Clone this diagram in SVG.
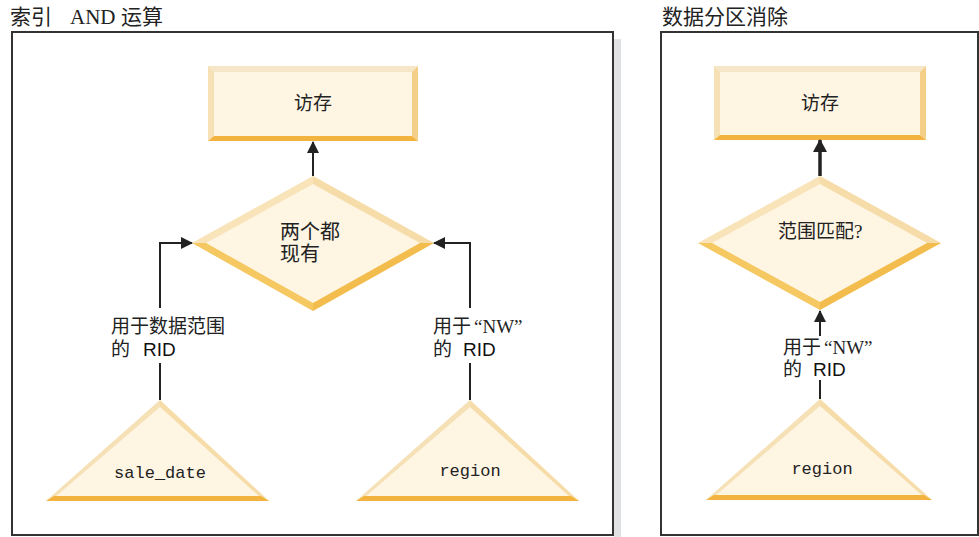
<svg xmlns="http://www.w3.org/2000/svg" width="979" height="537" viewBox="0 0 979 537">
<defs>
<style>
.title{font-family:"Liberation Serif","Noto Sans CJK SC",serif;font-size:21px;fill:#222}
.lbl{font-family:"Liberation Serif","Noto Sans CJK SC",serif;font-size:19px;fill:#222}
.rid{font-family:"Liberation Sans",Arial,sans-serif;font-size:19px;fill:#111}
.node{font-family:"Liberation Serif","Noto Sans CJK SC",serif;font-size:19px;fill:#222;text-anchor:middle}
.mono{font-family:"Liberation Mono","Courier New",monospace;font-size:17px;fill:#222;text-anchor:middle}
.fill{fill:#fef5e3}
.bt{fill:#f5e6c8}
.bl{fill:#f6e0b5}
.br{fill:#f3cf88}
.bb{fill:#f3b43f}
.dl{fill:#f9e3b9}
.dr{fill:#f6dca8}
.dbl{fill:#f5c862}
.dbr{fill:#f3bd4d}
.line{fill:none;stroke:#222;stroke-width:2}
.thick{fill:none;stroke:#222;stroke-width:3.5}
.panel{fill:#fff;stroke:#333;stroke-width:2}
</style>
<marker id="ah" markerWidth="12" markerHeight="12" refX="11" refY="6" orient="auto" markerUnits="userSpaceOnUse">
<path d="M0,0 L12,6 L0,12 Z" fill="#222"/>
</marker>
<marker id="ahb" markerWidth="14" markerHeight="14" refX="12" refY="7" orient="auto" markerUnits="userSpaceOnUse">
<path d="M0,0 L13,7 L0,14 Z" fill="#222"/>
</marker>
</defs>

<rect x="614" y="39" width="7" height="498" fill="#e1e2e4"/>
<rect class="panel" x="12" y="32" width="601" height="503"/>
<rect class="panel" x="661" y="32" width="317" height="503"/>
<text class="title" x="10" y="24">索引<tspan x="70">AND</tspan><tspan x="121">运算</tspan></text>
<text class="title" x="662" y="24">数据分区消除</text>

<!-- Left panel nodes -->
<g id="access1">
<rect class="fill" x="208" y="66" width="210" height="75"/>
<polygon class="bt" points="208,66 418,66 412,72 214,72"/>
<polygon class="bl" points="208,66 214,72 214,136 208,141"/>
<polygon class="br" points="418,66 418,141 412,136 412,72"/>
<polygon class="bb" points="208,141 418,141 412,136 214,136"/>
<text class="node" x="313" y="110">访存</text>
</g>

<g id="both">
<polygon class="fill" points="313,176 434,243 313,311 192,243"/>
<polygon class="dl" points="313,176 192,243 206,243 313,184"/>
<polygon class="dr" points="313,176 434,243 420,243 313,184"/>
<polygon class="dbl" points="192,243 313,311 313,303 206,243"/>
<polygon class="dbr" points="434,243 313,311 313,303 420,243"/>
<text class="lbl" x="280" y="239" style="font-size:20px">两个都</text>
<text class="lbl" x="280" y="261" style="font-size:20px">现有</text>
</g>

<g id="saledate">
<polygon class="fill" points="160,400 269,501 46,501"/>
<polygon class="bl" points="160,400 46,501 55,497 160,407"/>
<polygon class="dr" points="160,400 269,501 260,497 160,407"/>
<polygon class="bb" points="46,501 269,501 261,496 54,496"/>
<text class="mono" x="160" y="478">sale_date</text>
</g>

<g id="region1">
<polygon class="fill" points="470,400 579,501 356,501"/>
<polygon class="bl" points="470,400 356,501 365,497 470,407"/>
<polygon class="dr" points="470,400 579,501 570,497 470,407"/>
<polygon class="bb" points="356,501 579,501 571,496 364,496"/>
<text class="mono" x="470" y="476">region</text>
</g>

<!-- Right panel nodes -->
<g id="access2">
<rect class="fill" x="714" y="66" width="212" height="74"/>
<polygon class="bt" points="714,66 926,66 920,72 720,72"/>
<polygon class="bl" points="714,66 720,72 720,135 714,140"/>
<polygon class="br" points="926,66 926,140 920,135 920,72"/>
<polygon class="bb" points="714,140 926,140 920,135 720,135"/>
<text class="node" x="820" y="110">访存</text>
</g>

<g id="rangematch">
<polygon class="fill" points="820,176 941,243 820,310 698,243"/>
<polygon class="dl" points="820,176 698,243 712,243 820,184"/>
<polygon class="dr" points="820,176 941,243 927,243 820,184"/>
<polygon class="dbl" points="698,243 820,310 820,302 712,243"/>
<polygon class="dbr" points="941,243 820,310 820,302 927,243"/>
<text class="lbl" x="778" y="238">范围匹配?</text>
</g>

<g id="region2">
<polygon class="fill" points="820,399 932,500 706,500"/>
<polygon class="bl" points="820,399 706,500 715,496 820,406"/>
<polygon class="dr" points="820,399 932,500 923,496 820,406"/>
<polygon class="bb" points="706,500 932,500 924,495 714,495"/>
<text class="mono" x="822" y="474">region</text>
</g>

<!-- Connectors -->
<g id="connectors">
<line class="line" x1="313" y1="176" x2="313" y2="142" marker-end="url(#ah)"/>
<polyline class="line" points="160,308 160,243 192,243" marker-end="url(#ah)"/>
<line class="line" x1="160" y1="363" x2="160" y2="400"/>
<polyline class="line" points="470,308 470,243 434,243" marker-end="url(#ah)"/>
<line class="line" x1="470" y1="363" x2="470" y2="400"/>
<line class="thick" x1="820" y1="176" x2="820" y2="140" marker-end="url(#ahb)"/>
<line class="line" x1="820" y1="336" x2="820" y2="311" marker-end="url(#ah)"/>
<line class="line" x1="820" y1="380" x2="820" y2="399"/>
<text class="lbl" x="111" y="333">用于数据范围</text>
<text class="lbl" x="111" y="356">的<tspan class="rid" x="143">RID</tspan></text>
<text class="lbl" x="433" y="333">用于<tspan x="474">“NW”</tspan></text>
<text class="lbl" x="433" y="356">的<tspan class="rid" x="463">RID</tspan></text>
<text class="lbl" x="783" y="354">用于<tspan x="824">“NW”</tspan></text>
<text class="lbl" x="783" y="376">的<tspan class="rid" x="813">RID</tspan></text>
</g>
</svg>
